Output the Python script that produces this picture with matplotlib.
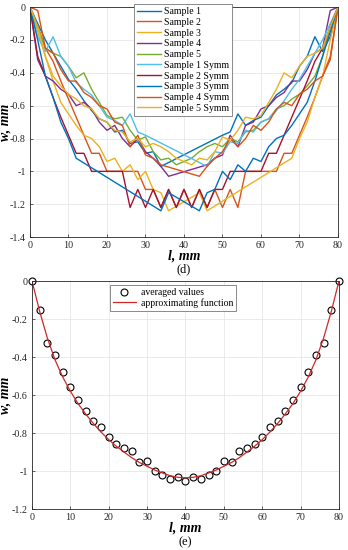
import numpy as np
import matplotlib
matplotlib.use('Agg')
import matplotlib.pyplot as plt
from matplotlib.ticker import FuncFormatter

# ---- data (d): five samples, the "Symm" curves are their mirror images ----
x_s1 = [0, 2, 4, 6, 8, 10, 12, 14, 16, 18, 20, 22, 24, 26, 28, 30, 32, 34,
        50, 52, 54, 56, 58, 60, 62, 64, 66, 68, 70, 72, 74, 76, 78, 80]
w_s1 = [0, -0.10, -0.20, -0.28, -0.36, -0.44, -0.50, -0.57, -0.63, -0.68, -0.70,
        -0.76, -0.75, -0.83, -0.82, -0.89, -0.88, -0.97,
        -0.78, -0.76, -0.65, -0.72, -0.69, -0.67, -0.60, -0.535, -0.50, -0.46,
        -0.36, -0.30, -0.18, -0.27, -0.18, 0]

x_s2 = list(range(0, 81, 2))
w_s2 = [0, -0.12, -0.25, -0.33, -0.45, -0.56, -0.67, -0.78, -0.89, -0.89, -1.0,
        -1.0, -1.0, -1.0, -1.0, -1.11, -1.11, -1.22, -1.11, -1.22, -1.11, -1.22,
        -1.11, -1.22, -1.11, -1.22, -1.11, -1.22, -1.0, -1.0, -1.0, -1.0, -1.0,
        -0.89, -0.89, -0.78, -0.67, -0.55, -0.42, -0.30, 0]

x_s3 = [0, 2, 4, 6, 8, 10, 12, 14, 16, 18, 20, 22, 24, 26, 28, 30, 32, 34, 36,
        44, 46, 68, 70, 72, 74, 76, 78, 80]
w_s3 = [0, -0.15, -0.30, -0.45, -0.58, -0.65, -0.72, -0.78, -0.80, -0.85, -0.94,
        -0.92, -1.0, -0.96, -1.05, -1.0, -1.11, -1.13, -1.24,
        -1.13, -1.24, -0.92, -0.80, -0.70, -0.55, -0.42, -0.20, 0]

x_s4 = [0, 2, 4, 6, 8, 10, 12, 14, 16, 18, 20, 22, 24, 26, 28, 30, 32, 34, 36,
        46, 48, 50, 52, 54, 56, 58, 60, 62, 64, 66, 68, 70, 72, 74, 76, 78, 80]
w_s4 = [0, -0.32, -0.42, -0.45, -0.50, -0.53, -0.60, -0.58, -0.62, -0.70, -0.75,
        -0.72, -0.80, -0.85, -0.80, -0.88, -0.92, -0.97, -1.03,
        -0.96, -0.92, -0.90, -0.78, -0.85, -0.72, -0.70, -0.62, -0.60, -0.55,
        -0.52, -0.45, -0.45, -0.38, -0.28, -0.25, -0.02, 0]

x_s5 = list(range(0, 81, 2))
w_s5 = [0, -0.12, -0.25, -0.28, -0.30, -0.36, -0.43, -0.40, -0.50, -0.58, -0.66,
        -0.68, -0.67, -0.75, -0.81, -0.79, -0.88, -0.93, -0.92, -0.96, -0.94,
        -0.92, -0.88, -0.85, -0.83, -0.85, -0.80, -0.82, -0.76, -0.75, -0.70,
        -0.68, -0.62, -0.60, -0.56, -0.53, -0.48, -0.42, -0.30, -0.12, 0]

sample_labels = ['Sample 1', 'Sample 2', 'Sample 3', 'Sample 4', 'Sample 5']

# ---- data (e): averaged values and approximating function ----
l_avg = list(range(0, 81, 2))
w_avg = [0, -0.155, -0.325, -0.39, -0.48, -0.56, -0.625, -0.684, -0.737, -0.77,
         -0.823, -0.858, -0.877, -0.893, -0.954, -0.946, -1.002, -1.023, -1.044,
         -1.032, -1.054, -1.032, -1.044, -1.023, -1.002, -0.946, -0.954, -0.893,
         -0.877, -0.858, -0.823, -0.77, -0.737, -0.684, -0.625, -0.56, -0.48,
         -0.39, -0.325, -0.155, 0]

l_fit = list(range(0, 81, 2))
w_fit = [0, -0.16, -0.30, -0.415, -0.505, -0.58, -0.645, -0.70, -0.75, -0.795,
         -0.835, -0.87, -0.90, -0.93, -0.955, -0.975, -0.995, -1.01, -1.025,
         -1.033, -1.036, -1.033, -1.025, -1.01, -0.995, -0.975, -0.955, -0.93,
         -0.90, -0.87, -0.835, -0.795, -0.75, -0.70, -0.645, -0.58, -0.505,
         -0.415, -0.30, -0.16, 0]

colors = ['#0072BD', '#D95319', '#EDB120', '#7E2F8E', '#77AC30',
          '#4DBEEE', '#A2142F', '#0072BD', '#D95319', '#EDB120']

plt.rcParams['font.family'] = ['Liberation Serif', 'DejaVu Serif']
tickfmt = FuncFormatter(lambda v, p: '%g' % (round(v, 2) + 0.0))


def style_axes(ax, xlab_y, ylab_x):
    ax.grid(True, color='#e6e6e6', linewidth=0.6)
    ax.set_axisbelow(True)
    for s in ax.spines.values():
        s.set_color('#262626')
        s.set_linewidth(0.6)
    ax.tick_params(direction='in', length=2.5, width=0.5, labelsize=7.2,
                   colors='#262626', top=False, right=False, pad=3)
    ax.xaxis.set_major_formatter(tickfmt)
    ax.yaxis.set_major_formatter(tickfmt)
    ax.set_xlabel('l, mm', fontsize=10, fontweight='bold', style='italic')
    ax.set_ylabel('w, mm', fontsize=10, fontweight='bold', style='italic')
    ax.xaxis.set_label_coords(0.5, xlab_y)
    ax.yaxis.set_label_coords(ylab_x, 0.5)


fig = plt.figure(figsize=(3.48, 5.5), dpi=100)

# ---- (d) ----
ax1 = fig.add_axes([0.0862, 0.569, 0.885, 0.418])
xs = [x_s1, x_s2, x_s3, x_s4, x_s5]
ws = [w_s1, w_s2, w_s3, w_s4, w_s5]
for i in range(5):
    ax1.plot(xs[i], ws[i], color=colors[i], lw=1.0, label=sample_labels[i])
for i in range(5):
    xm = [80 - v for v in xs[i]]
    ax1.plot(xm, ws[i], color=colors[5 + i], lw=1.0,
             label=sample_labels[i] + ' Symm')
ax1.set_xlim(0, 80)
ax1.set_ylim(-1.4, 0)
ax1.set_xticks(np.arange(0, 81, 10))
ax1.set_yticks(np.arange(-1.4, 0.01, 0.2))
style_axes(ax1, -0.054, -0.06)
leg1 = ax1.legend(loc='upper center', bbox_to_anchor=(0.498, 1.013), fontsize=7.0,
                  handlelength=2.4, handletextpad=0.35, labelspacing=0.18,
                  borderpad=0.3, borderaxespad=0, fancybox=False, framealpha=1,
                  edgecolor='#777777')
leg1.get_frame().set_linewidth(0.6)
fig.text(0.5 * (0.0862 + 0.971), 1 - 269 / 550, '(d)', ha='center', va='center',
         fontsize=9)

# ---- (e) ----
ax2 = fig.add_axes([0.092, 0.0745, 0.882, 0.4145])
ax2.plot(l_avg, w_avg, 'o', mfc='none', mec='black', mew=0.8, ms=5,
         label='averaged values', clip_on=False)
ax2.plot(l_fit, w_fit, color='#d02828', lw=0.9, label='approximating function')
ax2.set_xlim(0, 80)
ax2.set_ylim(-1.2, 0)
ax2.set_xticks(np.arange(0, 81, 10))
ax2.set_yticks(np.arange(-1.2, 0.01, 0.2))
style_axes(ax2, -0.056, -0.066)
leg2 = ax2.legend(loc='upper center', bbox_to_anchor=(0.459, 0.982), fontsize=7,
                  handlelength=2.4, handletextpad=0.5, labelspacing=0.1,
                  borderpad=0.3, borderaxespad=0, fancybox=False, framealpha=1,
                  edgecolor='#777777')
leg2.get_frame().set_linewidth(0.6)
fig.text(0.5 * (0.092 + 0.974), 1 - 542 / 550, '(e)', ha='center', va='center',
         fontsize=9)

fig.savefig('out.png', dpi=100)
